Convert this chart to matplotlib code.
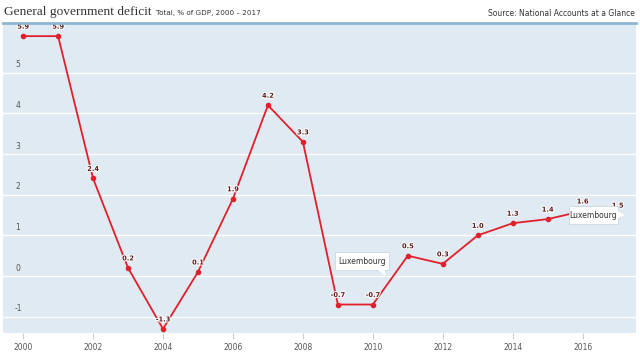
import numpy as np
import matplotlib.pyplot as plt
import matplotlib.patheffects as pe

years = list(range(2000, 2018))
deficit = [5.9, 5.9, 2.4, 0.2, -1.3, 0.1, 1.9, 4.2, 3.3, -0.7, -0.7, 0.5, 0.3, 1.0, 1.3, 1.4, 1.6, 1.5]
y_ticks = [-1, 0, 1, 2, 3, 4, 5]
x_ticks = list(range(2000, 2018, 2))
country = "Luxembourg"

bg = '#dfeaf2'
line_col = '#e0202b'
lab_col = '#5a1a1a'

fig = plt.figure(figsize=(6.4, 3.52), dpi=100, facecolor='white')
ax = fig.add_axes([0.005, 0.054, 0.989, 0.878], facecolor=bg)

ax.set_xlim(1999.43, 2017.53)
ax.set_ylim(-1.4, 6.2)

for yt in y_ticks:
    ax.axhline(yt, color='white', lw=1.0, zorder=1)
    ax.text(1999.85, yt + 0.08, f"{yt}", fontsize=5.5, color='#555555', ha='center', va='bottom', zorder=2)

ax.plot(years, deficit, color=line_col, lw=1.3, zorder=3)
ax.scatter(years, deficit, color=line_col, s=9, zorder=4)

for x, v in zip(years, deficit):
    ax.text(x, v + 0.16, f"{v:.1f}", fontsize=4.8, fontweight='bold', color=lab_col, ha='center', va='bottom',
            zorder=5, path_effects=[pe.withStroke(linewidth=1.5, foreground='white')])

# tooltips
def tooltip(xc, yc, w, h):
    ax.add_patch(plt.Rectangle((xc - w / 2, yc - h / 2), w, h, facecolor='white', edgecolor='#c8d8e4',
                               lw=0.6, zorder=6))
    ax.text(xc, yc, country, fontsize=5.5, color='#333333', ha='center', va='center', zorder=7)

tooltip(2009.7, 0.37, 1.55, 0.45)
ax.add_patch(plt.Polygon([[2010.15, 0.15], [2010.35, 0.15], [2010.35, -0.0]], facecolor='white', edgecolor='none', zorder=6))
tooltip(2016.31, 1.5, 1.4, 0.45)
ax.add_patch(plt.Polygon([[2017.0, 1.6], [2017.0, 1.4], [2017.2, 1.5]], facecolor='white', edgecolor='none', zorder=6))

ax.set_xticks(x_ticks)
ax.set_xticklabels([str(t) for t in x_ticks], fontsize=5.5, color='#555555')
ax.tick_params(axis='x', length=4, color='#cccccc', pad=3, direction='out')
ax.set_yticks([])
for s in ax.spines.values():
    s.set_visible(False)

fig.add_artist(plt.Line2D([0.005, 0.994], [0.936, 0.936], color='#8db7d0', lw=2.0, transform=fig.transFigure))

fig.text(0.006, 0.966, "General government deficit", fontsize=9.6, family='Liberation Serif', color='#333333',
         ha='left', va='center')
fig.text(0.243, 0.963, "Total, % of GDP, 2000 – 2017", fontsize=5.2, family=['Liberation Sans Narrow', 'DejaVu Sans'],
         color='#333333', ha='left', va='center')
fig.text(0.992, 0.963, "Source: National Accounts at a Glance", fontsize=5.5,
         family=['Liberation Sans Narrow', 'DejaVu Sans'], color='#333333', ha='right', va='center')

fig.savefig('out.png', dpi=100, facecolor='white')
